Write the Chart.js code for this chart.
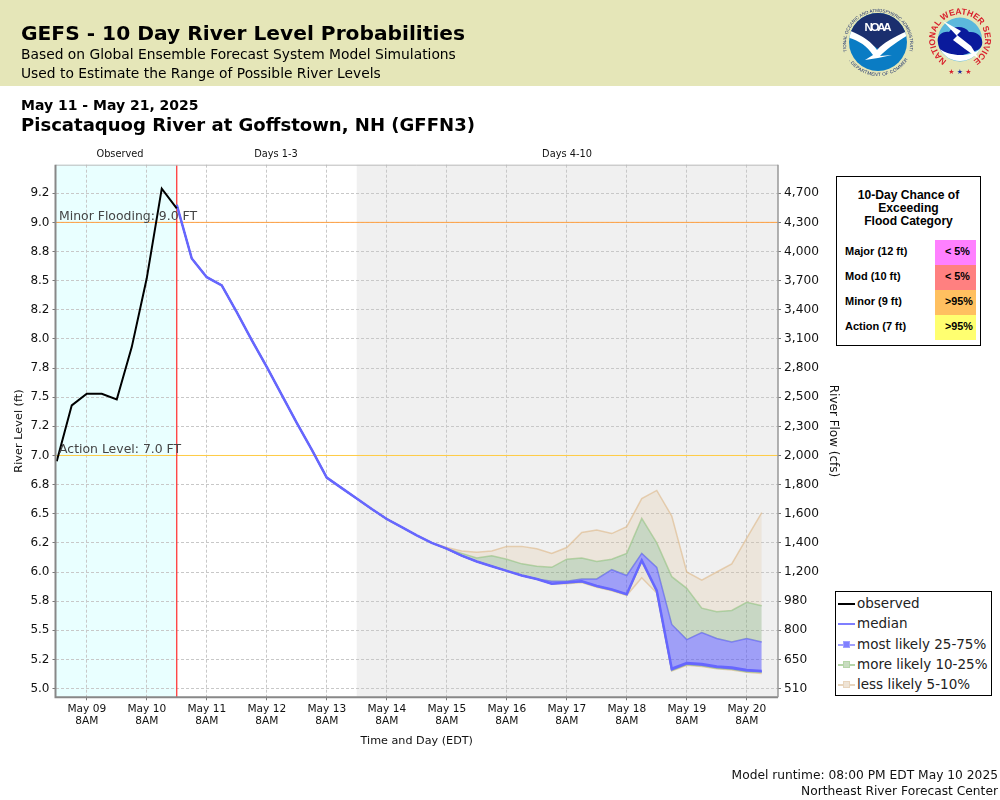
<!DOCTYPE html>
<html>
<head>
<meta charset="utf-8">
<title>GEFS - 10 Day River Level Probabilities</title>
<script src="https://cdn.jsdelivr.net/npm/chart.js@4"></script>
<style>
  html, body { margin: 0; padding: 0; background: #fff; }
  body { width: 1000px; height: 800px; position: relative; overflow: hidden; font-family: "DejaVu Sans", sans-serif; color: #000; }
  canvas { position: absolute; left: 0; top: 0; }
  .txt { position: absolute; white-space: nowrap; line-height: 1; }
  #banner { position: absolute; left: 0; top: 0; width: 1000px; height: 86px; background: #e5e6b8; }
  #floodBox { position: absolute; left: 836px; top: 176px; width: 143px; height: 168px; border: 1px solid #000; background: #fff; font-family: "Liberation Sans", Arial, sans-serif; font-weight: bold; }
  #floodTitle { position: absolute; top: 12px; left: 0; width: 100%; text-align: center; font-size: 12.1px; line-height: 13px; }
  .floodName { position: absolute; left: 8px; font-size: 11px; line-height: 23px; }
  .floodCell { position: absolute; left: 98px; width: 41px; height: 25px; font-size: 10.8px; line-height: 23px; text-indent: 10px; }
  #legendBox { position: absolute; left: 835px; top: 591px; width: 155px; height: 103px; border: 1px solid #000; background: #fff; }
  .legRow { position: absolute; left: 21px; font-size: 13.5px; line-height: 20px; white-space: nowrap; color: #222; }
  .legLine { position: absolute; left: 2px; width: 17px; height: 2px; }
  .legBox { position: absolute; left: 7px; width: 7px; height: 7px; }
</style>
</head>
<body>
<div id="banner"></div>
<canvas id="grafico" width="1000" height="800"></canvas>

<div class="txt" style="left:21px;top:23px;font-size:20.2px;font-weight:bold;">GEFS - 10 Day River Level Probabilities</div>
<div class="txt" style="left:21px;top:48px;font-size:13.83px;">Based on Global Ensemble Forecast System Model Simulations</div>
<div class="txt" style="left:21px;top:67px;font-size:13.83px;">Used to Estimate the Range of Possible River Levels</div>
<div class="txt" style="left:21px;top:98px;font-size:14px;font-weight:bold;">May 11 - May 21, 2025</div>
<div class="txt" style="left:21px;top:116px;font-size:18.06px;font-weight:bold;">Piscataquog River at Goffstown, NH (GFFN3)</div>
<div class="txt" style="right:2px;top:769px;font-size:12.26px;color:#111;">Model runtime: 08:00 PM EDT May 10 2025</div>
<div class="txt" style="right:2px;top:785px;font-size:12.26px;color:#111;">Northeast River Forecast Center</div>

<svg style="position:absolute;left:830px;top:0" width="170" height="86" viewBox="830 0 170 86">
  <defs>
    <path id="noaaTop" d="M 847 52 A 32 32 0 1 1 909 52"/>
    <path id="noaaBot" d="M 851 58 A 32 32 0 0 0 905 58"/>
    <path id="nwsRing" d="M 946 60 A 25 25 0 1 1 974 60"/>
    <clipPath id="noaaClip"><circle cx="878" cy="42" r="29"/></clipPath>
  </defs>
  <!-- logo NOAA -->
  <g clip-path="url(#noaaClip)">
    <rect x="848" y="12" width="60" height="60" fill="#0a7cc4"/>
    <path d="M 848 12 H 908 V 30 L 880 50 L 848 30 Z" fill="#1b2f6e"/>
    <path d="M 846 29 C 862 35 872 42 877 50 C 884 42 896 36 910 30 L 910 34 C 896 42 886 50 880 56 L 892 55 L 878 58 L 865 60 L 873 55 C 866 45 858 40 846 37 Z" fill="#fff"/>
  </g>
  <text x="878" y="30.5" font-family="Liberation Sans, sans-serif" font-size="11.5" font-weight="bold" fill="#fff" text-anchor="middle" textLength="27">NOAA</text>
  <text font-family="Liberation Sans, sans-serif" font-size="4.5" fill="#1b2f6e"><textPath href="#noaaTop" startOffset="50%" text-anchor="middle">NATIONAL OCEANIC AND ATMOSPHERIC ADMINISTRATION</textPath></text>
  <text font-family="Liberation Sans, sans-serif" font-size="4.6" fill="#1b2f6e"><textPath href="#noaaBot" startOffset="50%" text-anchor="middle" dominant-baseline="hanging">U.S. DEPARTMENT OF COMMERCE</textPath></text>
  <!-- logo NWS -->
  <circle cx="960" cy="39.5" r="22" fill="#5cb8dc"/>
  <path d="M 938 43 C 936 35 943 31 949 32 C 953 25 965 26 969 32 C 977 31 984 37 982 45 C 980 51 973 51 969 53 C 961 57 951 55 947 53 C 941 53 939 49 938 43 Z" fill="#0a1a9c"/>
  <path d="M 940 49 C 948 56 970 58 980 49 C 976 57 968 61 960 61 C 951 61 944 56 940 49 Z" fill="#fff"/>
  <path d="M 943 21 L 961 31 L 957 35 L 971 46 L 979 59 L 965 49 L 953 40 L 957 36 Z" fill="#fff"/>
  <text font-family="Liberation Sans, sans-serif" font-size="8.6" font-weight="bold" fill="#d8202c"><textPath href="#nwsRing" startOffset="50%" text-anchor="middle">NATIONAL WEATHER SERVICE</textPath></text>
  <text x="960" y="74" font-family="DejaVu Sans, sans-serif" font-size="7" fill="#d8202c" text-anchor="middle">★ <tspan fill="#1b2f9e">★</tspan> ★</text>
</svg>

<div id="floodBox"><div id="floodTitle">10-Day Chance of<br>Exceeding<br>Flood Category</div></div>
<div id="legendBox"></div>

<script>
// === DATA ===
const obsHours = [-12, -6, 0, 6, 12, 18, 24, 30, 36];
const observed = [6.95, 7.43, 7.53, 7.53, 7.48, 7.93, 8.52, 9.29, 9.12];

const fcstHours = [36, 42, 48, 54, 60, 66, 72, 78, 84, 90, 96, 102, 108, 114, 120, 126, 132, 138, 144, 150,
  156, 162, 168, 174, 180, 186, 192, 198, 204, 210, 216, 222, 228, 234, 240, 246, 252, 258, 264, 270];

const median = [9.15, 8.69, 8.53, 8.46, 8.23, 7.99, 7.76, 7.52, 7.28, 7.05, 6.81, 6.72, 6.63, 6.54, 6.455, 6.385, 6.315, 6.25, 6.2, 6.14,
  6.09, 6.05, 6.01, 5.97, 5.94, 5.9, 5.91, 5.92, 5.88, 5.85, 5.81, 6.1, 5.84, 5.17, 5.22, 5.21, 5.19, 5.18, 5.16, 5.15];
const p95 = [9.15, 8.69, 8.53, 8.46, 8.23, 7.99, 7.76, 7.52, 7.28, 7.05, 6.81, 6.72, 6.63, 6.54, 6.455, 6.385, 6.315, 6.25, 6.21, 6.18,
  6.17, 6.18, 6.22, 6.22, 6.2, 6.16, 6.21, 6.34, 6.36, 6.33, 6.39, 6.63, 6.7, 6.48, 6.0, 5.93, 6.0, 6.07, 6.29, 6.51];
const p90 = [9.15, 8.69, 8.53, 8.46, 8.23, 7.99, 7.76, 7.52, 7.28, 7.05, 6.81, 6.72, 6.63, 6.54, 6.455, 6.385, 6.315, 6.25, 6.2, 6.16,
  6.12, 6.14, 6.11, 6.07, 6.05, 6.04, 6.11, 6.12, 6.09, 6.11, 6.16, 6.46, 6.25, 5.96, 5.86, 5.69, 5.66, 5.67, 5.74, 5.71];
const p75 = [9.15, 8.69, 8.53, 8.46, 8.23, 7.99, 7.76, 7.52, 7.28, 7.05, 6.81, 6.72, 6.63, 6.54, 6.455, 6.385, 6.315, 6.25, 6.2, 6.14,
  6.09, 6.05, 6.01, 5.97, 5.94, 5.92, 5.92, 5.94, 5.94, 6.02, 5.97, 6.16, 6.04, 5.55, 5.42, 5.48, 5.43, 5.4, 5.43, 5.4];
const p25 = [9.15, 8.69, 8.53, 8.46, 8.23, 7.99, 7.76, 7.52, 7.28, 7.05, 6.81, 6.72, 6.63, 6.54, 6.455, 6.385, 6.315, 6.25, 6.2, 6.14,
  6.09, 6.05, 6.01, 5.97, 5.94, 5.9, 5.91, 5.92, 5.88, 5.85, 5.81, 6.1, 5.84, 5.16, 5.21, 5.2, 5.18, 5.17, 5.15, 5.145];
const p10 = [9.15, 8.69, 8.53, 8.46, 8.23, 7.99, 7.76, 7.52, 7.28, 7.05, 6.81, 6.72, 6.63, 6.54, 6.455, 6.385, 6.315, 6.25, 6.2, 6.14,
  6.09, 6.05, 6.01, 5.97, 5.94, 5.9, 5.905, 5.915, 5.875, 5.845, 5.805, 6.09, 5.83, 5.155, 5.205, 5.195, 5.175, 5.165, 5.145, 5.14];
const p5 = [9.15, 8.69, 8.53, 8.46, 8.23, 7.99, 7.76, 7.52, 7.28, 7.05, 6.81, 6.72, 6.63, 6.54, 6.455, 6.385, 6.315, 6.25, 6.2, 6.14,
  6.09, 6.05, 6.01, 5.97, 5.94, 5.9, 5.9, 5.91, 5.87, 5.84, 5.8, 5.95, 5.82, 5.15, 5.2, 5.19, 5.17, 5.16, 5.14, 5.13];

const xTickHours = [0, 24, 48, 72, 96, 120, 144, 168, 192, 216, 240, 264];
const xTickDays = ["May 09", "May 10", "May 11", "May 12", "May 13", "May 14", "May 15", "May 16", "May 17", "May 18", "May 19", "May 20"];
const levelTicks = [5, 5.25, 5.5, 5.75, 6, 6.25, 6.5, 6.75, 7, 7.25, 7.5, 7.75, 8, 8.25, 8.5, 8.75, 9, 9.25];
const levelLabels = ["5.0", "5.2", "5.5", "5.8", "6.0", "6.2", "6.5", "6.8", "7.0", "7.2", "7.5", "7.8", "8.0", "8.2", "8.5", "8.8", "9.0", "9.2"];
const flowLabels = ["510", "650", "800", "980", "1,200", "1,400", "1,600", "1,800", "2,000", "2,300", "2,500", "2,800", "3,100", "3,400", "3,700", "4,000", "4,300", "4,700"];

const minorLevel = 9;
const actionLevel = 7;
const runtimeHour = 36;
const days4Hour = 108;

const floodNames = ["Major (12 ft)", "Mod (10 ft)", "Minor (9 ft)", "Action (7 ft)"];
const floodChances = ["< 5%", "< 5%", ">95%", ">95%"];
const floodColors = ["#ff80ff", "#ff8080", "#ffc060", "#ffff70"];

const legendNames = ["observed", "median", "most likely 25-75%", "more likely 10-25%", "less likely 5-10%"];

// === COLORS ===
const beigeFill = "rgba(222,184,135,0.2)";
const beigeLine = "rgba(222,184,135,0.6)";
const greenFill = "rgba(110,160,95,0.3)";
const greenLine = "rgba(150,200,140,0.7)";
const blueFill = "rgba(60,60,255,0.45)";
const blueLine = "rgba(100,100,255,0.7)";

function pontos(horas, valores) {
  return horas.map((h, i) => ({ x: h, y: valores[i] }));
}

function banda(valores, cor, preenche, alvo) {
  return {
    data: pontos(fcstHours, valores),
    borderColor: cor,
    borderWidth: 1.5,
    backgroundColor: preenche,
    fill: alvo === null ? false : { target: alvo },
    pointRadius: 0,
    tension: 0
  };
}

function linhaNivel(nivel, cor) {
  return {
    data: pontos([-12.5, 276.5], [nivel, nivel]),
    borderColor: cor,
    borderWidth: 1,
    pointRadius: 0,
    fill: false
  };
}

// === HTML LEGENDS ===
const floodBox = document.getElementById("floodBox");
floodNames.forEach((nome, i) => {
  const top = 63 + i * 25;
  floodBox.insertAdjacentHTML("beforeend",
    `<div class="floodName" style="top:${top}px">${nome}</div>` +
    `<div class="floodCell" style="top:${top}px;background:${floodColors[i]}">${floodChances[i].replace("<", "&lt;")}</div>`);
});

const legendBox = document.getElementById("legendBox");
const legendLines = ["#000", "#7f7fff", "#a0a0ff", "#b5d5a8", "#e8d5bd"];
const legendSwatch = [null, null, "#8080ff", "#c8dcc0", "#efe4d6"];
legendNames.forEach((nome, i) => {
  const top = 1 + i * 20.3;
  let html = `<div class="legRow" style="top:${top}px">${nome}</div>` +
    `<div class="legLine" style="top:${top + 10}px;background:${legendLines[i]}"></div>`;
  if (legendSwatch[i]) {
    html += `<div class="legBox" style="top:${top + 7}px;background:${legendSwatch[i]};box-sizing:border-box;border:1px solid ${legendLines[i]}"></div>`;
  }
  legendBox.insertAdjacentHTML("beforeend", html);
});

// === PLUGIN: backgrounds, frame and text on the plot ===
const fundoPlugin = {
  id: "fundo",
  beforeDraw(chart) {
    const { ctx, chartArea: a, scales: { x } } = chart;
    ctx.save();
    ctx.fillStyle = "#e9ffff";
    ctx.fillRect(a.left, a.top, x.getPixelForValue(runtimeHour) - a.left, a.bottom - a.top);
    ctx.fillStyle = "#f0f0f0";
    ctx.fillRect(x.getPixelForValue(days4Hour), a.top, a.right - x.getPixelForValue(days4Hour), a.bottom - a.top);
    ctx.restore();
  },
  afterDatasetsDraw(chart) {
    const { ctx, chartArea: a, scales: { y } } = chart;
    ctx.save();
    ctx.font = '12.45px "DejaVu Sans"';
    ctx.fillStyle = "#444";
    ctx.textAlign = "left";
    ctx.fillText("Minor Flooding: 9.0 FT", a.left + 3.5, y.getPixelForValue(minorLevel) - 2);
    ctx.fillText("Action Level: 7.0 FT", a.left + 3.5, y.getPixelForValue(actionLevel) - 2);

    ctx.font = '9.8px "DejaVu Sans"';
    ctx.fillStyle = "#111";
    ctx.textAlign = "center";
    ctx.fillText("Observed", 120, 157);
    ctx.fillText("Days 1-3", 276, 157);
    ctx.fillText("Days 4-10", 567, 157);

    // moldura: left and bottom darker
    ctx.lineWidth = 1;
    ctx.strokeStyle = "#bbb";
    ctx.beginPath();
    ctx.moveTo(a.left, a.top + 0.5); ctx.lineTo(a.right, a.top + 0.5);
    ctx.stroke();
    ctx.lineWidth = 2;
    ctx.strokeStyle = "#888";
    ctx.beginPath();
    ctx.moveTo(a.left, a.top); ctx.lineTo(a.left, a.bottom); ctx.lineTo(a.right, a.bottom);
    ctx.stroke();
    ctx.lineWidth = 1.5;
    ctx.strokeStyle = "#999";
    ctx.beginPath();
    ctx.moveTo(a.right, a.top); ctx.lineTo(a.right, a.bottom);
    ctx.stroke();
    ctx.restore();
  }
};

const grade = {
  color: "#c8c8c8",
  lineWidth: 1,
  tickColor: "#777",
  tickLength: 3,
  tickBorderDash: []
};

// === CHART ===
new Chart(document.getElementById("grafico"), {
  type: "line",
  data: {
    datasets: [
      { data: pontos(obsHours, observed), borderColor: "#000", borderWidth: 2, pointRadius: 0, tension: 0, fill: false },
      { data: pontos(fcstHours, median), borderColor: "#6666ff", borderWidth: 2.5, pointRadius: 0, tension: 0, fill: false },
      banda(p95, beigeLine, beigeFill, 3),
      banda(p90, greenLine, greenFill, 4),
      banda(p75, blueLine, blueFill, 5),
      banda(p25, blueLine, greenFill, 6),
      banda(p10, greenLine, beigeFill, 7),
      banda(p5, beigeLine, beigeFill, null),
      { data: pontos([runtimeHour, runtimeHour], [4.925, 9.495]), borderColor: "#ff2a2a", borderWidth: 1.2, pointRadius: 0, fill: false },
      linhaNivel(minorLevel, "#ffa040"),
      linhaNivel(actionLevel, "#ffcc44")
    ]
  },
  options: {
    responsive: false,
    animation: false,
    parsing: false,
    layout: { padding: { top: 164.7, right: 160, bottom: 50, left: 0 } },
    plugins: { legend: { display: false }, tooltip: { enabled: false } },
    scales: {
      x: {
        type: "linear",
        min: -12.5,
        max: 276.5,
        afterBuildTicks(s) { s.ticks = xTickHours.map(v => ({ value: v })); },
        afterFit(s) { s.height = 52.7; },
        ticks: {
          autoSkip: false,
          maxRotation: 0,
          padding: 3,
          color: "#111",
          font: { family: "DejaVu Sans", size: 10.6, lineHeight: 1.1 },
          callback: (v, i) => [xTickDays[i], "8AM"]
        },
        grid: grade,
        border: { display: false, dash: [3, 2] },
        title: { display: true, text: "Time and Day (EDT)", color: "#111", padding: 2, font: { family: "DejaVu Sans", size: 11.2 } }
      },
      y: {
        position: "left",
        min: 4.925,
        max: 9.495,
        afterBuildTicks(s) { s.ticks = levelTicks.map(v => ({ value: v })); },
        afterFit(s) { s.width = 55.5; },
        ticks: {
          autoSkip: false,
          padding: 3,
          color: "#111",
          font: { family: "DejaVu Sans", size: 12 },
          callback: (v, i) => levelLabels[i]
        },
        grid: grade,
        border: { display: false, dash: [3, 2] },
        title: { display: true, text: "River Level (ft)", color: "#111", padding: { top: 12, bottom: 0 }, font: { family: "DejaVu Sans", size: 11.3 } }
      },
      yFlow: {
        position: "right",
        min: 4.925,
        max: 9.495,
        afterBuildTicks(s) { s.ticks = levelTicks.map(v => ({ value: v })); },
        afterFit(s) { s.width = 62; },
        ticks: {
          autoSkip: false,
          padding: 3,
          color: "#111",
          font: { family: "DejaVu Sans", size: 12.2 },
          callback: (v, i) => flowLabels[i]
        },
        grid: { drawOnChartArea: false, tickColor: "#777", tickLength: 3 },
        border: { display: false },
        title: { display: true, text: "River Flow (cfs)", color: "#111", padding: { top: 0, bottom: 2 }, font: { family: "DejaVu Sans", size: 12 } }
      }
    }
  },
  plugins: [fundoPlugin]
});
</script>
</body>
</html>
